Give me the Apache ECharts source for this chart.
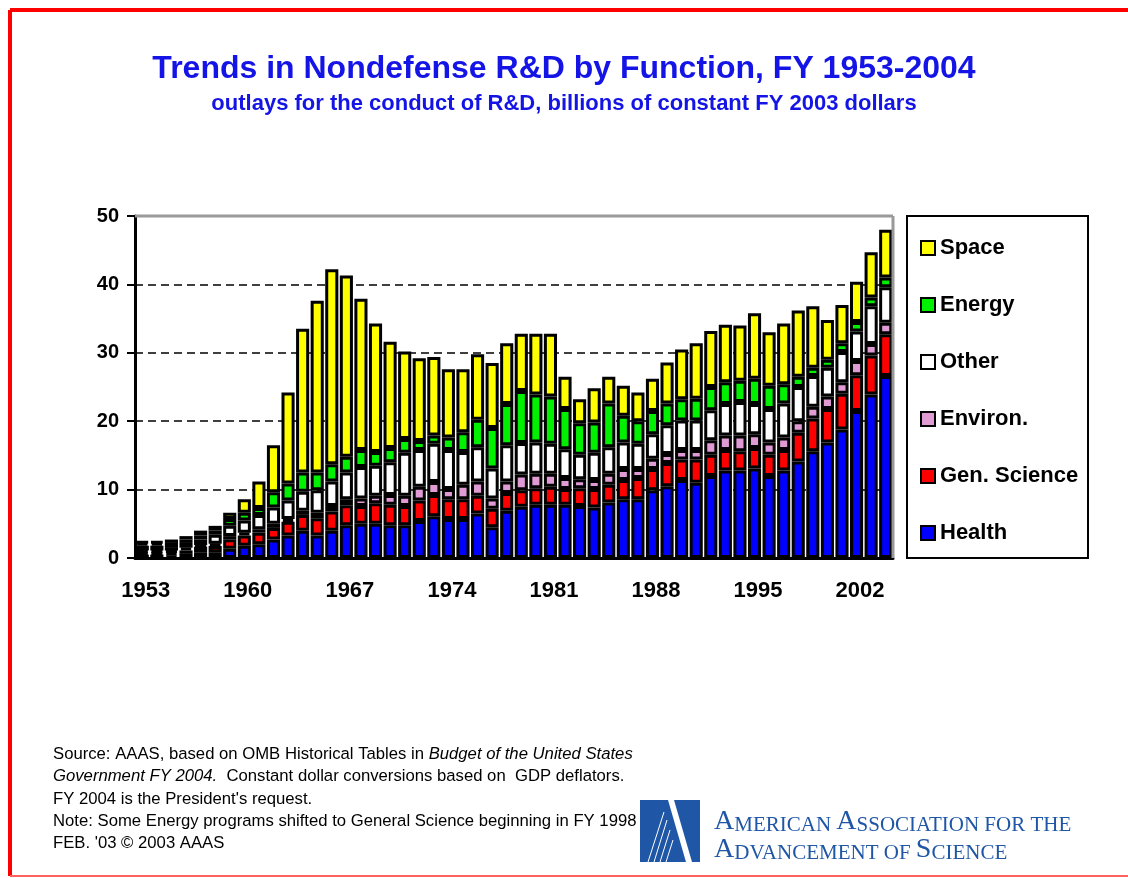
<!DOCTYPE html>
<html>
<head>
<meta charset="utf-8">
<title>Trends in Nondefense R&amp;D by Function, FY 1953-2004</title>
<script src="https://cdn.jsdelivr.net/npm/echarts@6/dist/echarts.min.js"></script>
<style>
  html, body { margin: 0; padding: 0; background: #fff; }
  #chart { width: 1128px; height: 878px; }
</style>
</head>
<body>
<div id="chart"></div>
<script>
// fiscal years on the x axis
const years = ['1953','1954','1955','1956','1957','1958','1959','1960','1961','1962',
  '1963','1964','1965','1966','1967','1968','1969','1970','1971','1972',
  '1973','1974','1975','1976','1977','1978','1979','1980','1981','1982',
  '1983','1984','1985','1986','1987','1988','1989','1990','1991','1992',
  '1993','1994','1995','1996','1997','1998','1999','2000','2001','2002',
  '2003','2004'];

// billions of constant FY 2003 dollars
const health = [0.5,0.5,0.4,0.6,0.85,0.85,1.35,1.8,2.0,2.7,
  3.3,4.0,3.3,4.0,4.8,5.0,5.0,4.8,4.8,5.4,
  6.1,5.7,5.7,6.5,4.5,6.9,7.5,7.8,7.8,7.8,
  7.6,7.4,8.1,8.6,8.6,9.9,10.5,11.4,11.0,12.0,
  12.8,12.8,13.1,12.0,12.8,14.1,15.6,16.9,18.8,21.5,
  23.9,26.6];
const genScience = [0.3,0.3,0.4,0.5,0.8,0.9,1.4,1.5,1.7,1.7,
  2.0,2.3,2.5,2.8,2.9,2.6,3.0,3.0,2.8,3.0,
  3.1,2.9,2.9,2.6,2.7,2.6,2.4,2.4,2.6,2.3,
  2.6,2.7,2.6,2.8,3.1,3.1,3.4,3.0,3.4,3.1,
  3.0,2.8,3.0,3.1,3.0,4.2,4.8,4.9,5.2,5.2,
  5.7,6.1];
const environ = [0.3,0.3,0.3,0.4,0.25,0.35,0.45,0.4,0.5,0.6,
  0.4,0.6,0.8,0.8,0.9,1.1,1.1,1.4,1.5,2.0,
  1.9,1.5,2.1,2.1,1.5,1.7,2.3,2.1,1.9,1.6,
  1.3,1.3,1.6,1.6,1.3,1.5,1.3,1.4,1.4,2.1,
  2.1,2.3,2.0,1.8,1.8,1.7,1.7,1.8,1.7,2.1,
  1.7,1.7];
const other = [0.7,0.7,0.5,0.7,0.8,1.3,1.5,1.8,2.1,2.4,
  2.7,2.8,3.3,3.6,3.9,4.6,4.4,4.8,6.3,5.4,
  5.6,5.7,4.8,5.0,4.4,5.3,4.6,4.6,4.4,4.2,
  3.6,4.0,3.9,3.9,3.7,3.6,4.2,4.3,4.3,4.4,
  4.6,4.9,4.4,4.9,5.0,5.0,4.5,4.2,4.4,4.3,
  5.5,5.2];
const energy = [0.4,0.4,0.6,0.5,0.6,0.6,1.0,1.1,1.0,2.2,
  2.5,2.8,2.6,2.5,2.3,2.5,2.0,2.1,2.0,1.3,
  1.2,1.8,2.9,4.0,5.9,6.0,7.6,7.0,6.9,5.9,
  4.6,4.4,6.4,3.9,3.3,3.4,3.2,3.1,3.2,3.4,
  3.2,3.1,3.7,3.4,2.8,1.5,1.2,1.2,1.3,1.4,
  1.3,1.4];
const space = [0.2,0.2,0.5,0.5,0.7,0.7,0.9,2.0,3.9,6.9,
  13.3,21.0,25.1,28.5,26.5,22.1,18.8,15.5,12.8,12.1,
  11.5,10.0,9.2,9.6,9.5,8.9,8.4,8.9,9.2,4.7,
  3.5,5.0,3.9,4.4,4.2,4.7,6.0,7.3,8.1,8.2,
  8.4,8.1,9.6,7.8,8.9,9.7,9.0,5.8,5.6,5.9,
  6.6,7.0];

const yMax = 50;
const yStep = 10;

const seriesDefs = [
  { name: 'Health', data: health, color: '#0000ff' },
  { name: 'Gen. Science', data: genScience, color: '#ff0000' },
  { name: 'Environ.', data: environ, color: '#e09ad4' },
  { name: 'Other', data: other, color: '#ffffff' },
  { name: 'Energy', data: energy, color: '#00f000' },
  { name: 'Space', data: space, color: '#ffff00' }
];

const titleColor = '#1414e6';
const logoBlue = '#1f56a6';
const font = 'Liberation Sans, Arial, sans-serif';
const serif = 'Liberation Serif, serif';

const chart = echarts.init(document.getElementById('chart'));

const note = { fontFamily: font, fontSize: 16.7, fill: '#000' };
const noteItalic = { fontFamily: font, fontSize: 16.7, fontStyle: 'italic', fill: '#000' };
const capBig = { fontFamily: serif, fontSize: 28, fill: logoBlue, verticalAlign: 'bottom' };
const capSmall = { fontFamily: serif, fontSize: 21, fill: logoBlue, verticalAlign: 'bottom' };

const option = {
  backgroundColor: '#ffffff',
  animation: false,
  title: [
    {
      text: 'Trends in Nondefense R&D by Function, FY 1953-2004',
      left: 'center',
      top: 48,
      textStyle: { fontFamily: font, fontWeight: 'bold', fontSize: 32, color: titleColor }
    },
    {
      text: 'outlays for the conduct of R&D, billions of constant FY 2003 dollars',
      left: 'center',
      top: 88,
      textStyle: { fontFamily: font, fontWeight: 'bold', fontSize: 22, color: titleColor }
    }
  ],
  legend: {
    data: ['Space', 'Energy', 'Other', 'Environ.', 'Gen. Science', 'Health'],
    orient: 'vertical',
    left: 915,
    top: 232,
    itemWidth: 14,
    itemHeight: 14,
    itemGap: 35,
    icon: 'rect',
    selectedMode: false,
    textStyle: { fontFamily: font, fontWeight: 'bold', fontSize: 22, lineHeight: 20, color: '#000' }
  },
  grid: { left: 135, right: 235, top: 216, bottom: 320 },
  xAxis: {
    type: 'category',
    data: years,
    axisLine: { lineStyle: { color: '#000', width: 3 } },
    axisTick: { interval: 0, length: 8, lineStyle: { color: '#000', width: 2 } },
    axisLabel: {
      interval: 6,
      margin: 22,
      padding: [0, 0, 0, 7],
      fontFamily: font, fontWeight: 'bold', fontSize: 22, color: '#000'
    },
    splitLine: { show: false }
  },
  yAxis: {
    type: 'value',
    min: 0,
    max: yMax,
    interval: yStep,
    axisLine: { show: true, lineStyle: { color: '#000', width: 3 } },
    axisTick: { show: true, length: 8, lineStyle: { color: '#000', width: 2 } },
    axisLabel: { margin: 16, fontFamily: font, fontWeight: 'bold', fontSize: 20, color: '#000' },
    splitLine: { lineStyle: { color: '#000', width: 1.5, type: [8, 5] } }
  },
  series: seriesDefs.map(s => ({
    name: s.name,
    type: 'bar',
    stack: 'total',
    barCategoryGap: '10%',
    data: s.data,
    itemStyle: { color: s.color, borderColor: '#000', borderWidth: 3 },
    emphasis: { disabled: true }
  })),
  graphic: [
    // plot frame (top and right, grey)
    { type: 'line', z: 100, shape: { x1: 135, y1: 216, x2: 893, y2: 216 }, style: { stroke: '#999', lineWidth: 3 } },
    { type: 'line', z: 100, shape: { x1: 893, y1: 216, x2: 893, y2: 558 }, style: { stroke: '#999', lineWidth: 3 } },
    // legend box
    { type: 'rect', z: 100, shape: { x: 907, y: 216, width: 181, height: 342 }, style: { fill: 'none', stroke: '#000', lineWidth: 2 } },
    // red page border
    { type: 'line', z: 100, shape: { x1: 10, y1: 10, x2: 1128, y2: 10 }, style: { stroke: '#ff0000', lineWidth: 4 } },
    { type: 'line', z: 100, shape: { x1: 10, y1: 10, x2: 10, y2: 876 }, style: { stroke: '#ff0000', lineWidth: 4 } },
    { type: 'line', z: 100, shape: { x1: 10, y1: 876, x2: 1128, y2: 876 }, style: { stroke: '#ff6060', lineWidth: 2 } },
    // footnotes
    {
      type: 'text', z: 100, left: 53, top: 746,
      style: {
        text: '{n|Source: AAAS, based on OMB Historical Tables in }{i|Budget of the United States}',
        rich: { n: note, i: noteItalic }
      }
    },
    {
      type: 'text', z: 100, left: 53, top: 768,
      style: {
        text: '{i|Government FY 2004.}{n|  Constant dollar conversions based on  GDP deflators.}',
        rich: { n: note, i: noteItalic }
      }
    },
    { type: 'text', z: 100, left: 53, top: 791, style: { text: "FY 2004 is the President's request.", font: '16.7px ' + font, fill: '#000' } },
    { type: 'text', z: 100, left: 53, top: 813, style: { text: 'Note: Some Energy programs shifted to General Science beginning in FY 1998', font: '16.7px ' + font, fill: '#000' } },
    { type: 'text', z: 100, left: 53, top: 835, style: { text: "FEB. '03 \u00a9 2003 AAAS", font: '16.7px ' + font, fill: '#000' } },
    // AAAS logo
    { type: 'rect', z: 101, shape: { x: 636, y: 798, width: 70, height: 68 }, style: { fill: '#fff' } },
    { type: 'polygon', z: 102, shape: { points: [[640, 800], [668, 800], [686, 862], [640, 862]] }, style: { fill: logoBlue } },
    { type: 'polygon', z: 102, shape: { points: [[674, 800], [700, 800], [700, 862], [692, 862]] }, style: { fill: logoBlue } },
    { type: 'line', z: 103, shape: { x1: 648, y1: 862, x2: 664, y2: 812 }, style: { stroke: '#fff', lineWidth: 1 } },
    { type: 'line', z: 103, shape: { x1: 654, y1: 862, x2: 667, y2: 820 }, style: { stroke: '#fff', lineWidth: 1 } },
    { type: 'line', z: 103, shape: { x1: 660, y1: 862, x2: 670, y2: 830 }, style: { stroke: '#fff', lineWidth: 1 } },
    { type: 'line', z: 103, shape: { x1: 666, y1: 862, x2: 673, y2: 840 }, style: { stroke: '#fff', lineWidth: 1 } },
    {
      type: 'text', z: 100, left: 714, top: 808,
      style: { text: '{b|A}{s|MERICAN }{b|A}{s|SSOCIATION FOR THE}', rich: { b: capBig, s: capSmall } }
    },
    {
      type: 'text', z: 100, left: 714, top: 836,
      style: { text: '{b|A}{s|DVANCEMENT OF }{b|S}{s|CIENCE}', rich: { b: capBig, s: capSmall } }
    }
  ]
};

chart.setOption(option);
</script>
</body>
</html>
